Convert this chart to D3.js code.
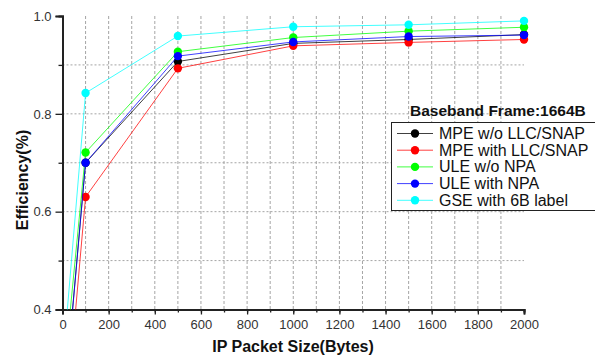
<!DOCTYPE html>
<html>
<head>
<meta charset="utf-8">
<script src="https://cdn.jsdelivr.net/npm/d3@7"></script>
<style>
  body { margin: 0; background: #fff; }
  svg { display: block; font-family: "Liberation Sans", Arial, sans-serif; }
</style>
</head>
<body>
<svg id="chart" width="595" height="356"></svg>
<script>
// ---- data ----
const packetSizes = [0, 100, 500, 1000, 1500, 2000];
const seriesNames = ["MPE w/o LLC/SNAP", "MPE with LLC/SNAP", "ULE w/o NPA", "ULE with NPA", "GSE with 6B label"];
const seriesColors = ["#000000", "#ff0000", "#00ff00", "#0000ff", "#00ffff"];
const mpeNoLlc   = [0.17, 0.700, 0.907, 0.944, 0.952, 0.962];
const mpeWithLlc = [0.095, 0.630, 0.893, 0.939, 0.946, 0.952];
const uleNoNpa   = [0.235, 0.721, 0.927, 0.956, 0.969, 0.977];
const uleWithNpa = [0.164, 0.700, 0.918, 0.947, 0.958, 0.961];
const gse6b      = [0.282, 0.8425, 0.959, 0.978, 0.982, 0.990];
const seriesValues = [mpeNoLlc, mpeWithLlc, uleNoNpa, uleWithNpa, gse6b];
const xTickLabels = [0, 200, 400, 600, 800, 1000, 1200, 1400, 1600, 1800, 2000];
const yTickLabels = [0.4, 0.6, 0.8, 1.0];
const legendTitle = "Baseband Frame:1664B";

// ---- layout ----
const svg = d3.select("#chart");
const L = 62.5, R = 524, T = 16, B = 309.5;
const x = d3.scaleLinear().domain([0, 2000]).range([L, R]);
const y = d3.scaleLinear().domain([0.4, 1.0]).range([B, T]);

svg.append("defs").append("clipPath").attr("id", "clip")
  .append("rect").attr("x", L).attr("y", T - 6).attr("width", R - L + 8).attr("height", B - T + 6);

// grid
const grid = svg.append("g");
d3.range(100, 2000, 100).forEach(v => {
  grid.append("line").attr("x1", x(v)).attr("x2", x(v)).attr("y1", T).attr("y2", B)
    .attr("stroke", "#a5a5a5").attr("stroke-width", 1).attr("stroke-dasharray", "3,2");
});
[0.5, 0.6, 0.7, 0.8, 0.9].forEach(v => {
  grid.append("line").attr("x1", L).attr("x2", R).attr("y1", y(v)).attr("y2", y(v))
    .attr("stroke", "#a5a5a5").attr("stroke-width", 1).attr("stroke-dasharray", "2,2");
});

// axes
const xAxisMinor = d3.axisBottom(x).tickValues(d3.range(0, 2001, 100)).tickSize(3).tickFormat("");
const xAxis = d3.axisBottom(x).tickValues(xTickLabels).tickSize(5).tickPadding(5).tickFormat(d3.format("d"));
const yAxisMinor = d3.axisLeft(y).tickValues([0.5, 0.7, 0.9]).tickSize(4).tickFormat("");
const yAxis = d3.axisLeft(y).tickValues(yTickLabels).tickSize(7).tickPadding(4).tickFormat(d3.format(".1f"));

function styleAxis(g) {
  g.select(".domain").attr("stroke", "#222").attr("stroke-width", 2);
  g.selectAll(".tick line").attr("stroke", "#222").attr("stroke-width", 1.3);
  g.selectAll(".tick text").attr("fill", "#333").style("font-size", "13px")
    .style("font-family", "Liberation Sans, Arial, sans-serif");
}
svg.append("g").attr("transform", `translate(0,${B})`).call(xAxisMinor).call(styleAxis);
svg.append("g").attr("transform", `translate(0,${B})`).call(xAxis).call(styleAxis);
svg.append("g").attr("transform", `translate(${L},0)`).call(yAxisMinor).call(styleAxis);
svg.append("g").attr("transform", `translate(${L},0)`).call(yAxis).call(styleAxis);

// axis titles
svg.append("text").attr("x", 293).attr("y", 352).attr("text-anchor", "middle")
  .style("font-weight", "bold").style("font-size", "16px").attr("fill", "#111")
  .text("IP Packet Size(Bytes)");
svg.append("text").attr("transform", "translate(28,180) rotate(-90)").attr("text-anchor", "middle")
  .style("font-weight", "bold").style("font-size", "16px").attr("fill", "#111")
  .text("Efficiency(%)");

// series
const plot = svg.append("g").attr("clip-path", "url(#clip)");
const line = d3.line().x((d, i) => x(packetSizes[i])).y(d => y(d));
seriesValues.forEach((vals, si) => {
  plot.append("path").datum(vals).attr("d", line)
    .attr("fill", "none").attr("stroke", seriesColors[si]).attr("stroke-width", 1).attr("stroke-opacity", 0.75);
  plot.selectAll(null).data(vals).enter().append("circle")
    .attr("cx", (d, i) => x(packetSizes[i])).attr("cy", d => y(d)).attr("r", 4.2)
    .attr("fill", seriesColors[si]);
});

// legend
svg.append("text").attr("x", 410).attr("y", 116).style("font-weight", "bold").style("font-size", "15.5px")
  .attr("fill", "#111").text(legendTitle);
const lg = svg.append("g");
lg.append("rect").attr("x", 391.5).attr("y", 122.5).attr("width", 215).attr("height", 88)
  .attr("fill", "#fff").attr("stroke", "#222").attr("stroke-width", 1);
seriesNames.forEach((name, i) => {
  const cy = 133.5 + i * 16.7;
  lg.append("line").attr("x1", 397).attr("x2", 433).attr("y1", cy).attr("y2", cy)
    .attr("stroke", seriesColors[i]).attr("stroke-width", 1).attr("stroke-opacity", 0.75);
  lg.append("circle").attr("cx", 415).attr("cy", cy).attr("r", 4.2).attr("fill", seriesColors[i]);
  lg.append("text").attr("x", 439).attr("y", cy + 5.5).style("font-size", "16px").attr("fill", "#111").text(name);
});
</script>
</body>
</html>
